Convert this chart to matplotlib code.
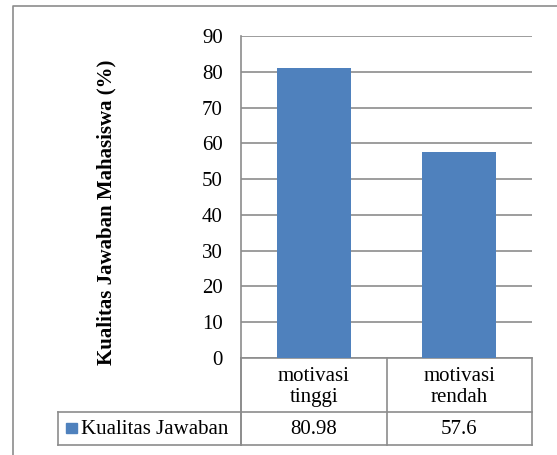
import matplotlib
matplotlib.use("Agg")
import matplotlib.pyplot as plt
from matplotlib.lines import Line2D
from matplotlib.patches import Rectangle
from matplotlib.transforms import blended_transform_factory

categories = ["motivasi\ntinggi", "motivasi\nrendah"]
values = [80.98, 57.6]
value_labels = ["80.98", "57.6"]
series_name = "Kualitas Jawaban"
y_ticks = [0, 10, 20, 30, 40, 50, 60, 70, 80, 90]
y_label = "Kualitas Jawaban Mahasiswa (%)"

W, H = 557, 455
BAR = "#4f81bd"
LINE = "#8c8c8c"
FONT = "Liberation Serif"
FS = 15

plt.rcParams["font.family"] = [FONT, "DejaVu Serif"]


def fx(px):
    return px / W


def fy(py):
    return 1 - py / H


fig = plt.figure(figsize=(W / 100, H / 100), dpi=100)

# plot area in pixel terms: left 241, right 532, top (90) 36, bottom (0) 358
ax = fig.add_axes([fx(241), fy(358), fx(532 - 241), (358 - 36) / H])
x = list(range(len(categories)))
ax.bar(x, values, width=0.51, color=BAR, zorder=3)
ax.set_xlim(-0.5, len(categories) - 0.5)
ax.set_ylim(0, 90)
ax.set_yticks(y_ticks)
ax.set_yticklabels([str(t) for t in y_ticks], fontsize=FS)
ax.set_xticks([])
ax.tick_params(axis="y", length=0, pad=13)
ax.yaxis.grid(True, color=LINE, linewidth=1.2)
ax.set_axisbelow(True)
for side in ("top", "right"):
    ax.spines[side].set_visible(False)
for side in ("left", "bottom"):
    ax.spines[side].set_color(LINE)
    ax.spines[side].set_linewidth(1.2)

fig.text(fx(106), fy(212), y_label, rotation=90, ha="center", va="center",
         fontsize=FS, fontweight="bold")

# data table under the axis: x from category positions, y in figure pixels
tr = blended_transform_factory(ax.transData, fig.transFigure)
x_lo, x_hi = -0.5, len(categories) - 0.5
row_top, row_mid, row_bot = 358, 412, 445

lines = [
    ([x_lo, x_lo], [fy(row_top), fy(row_bot)]),
    ([x_lo, x_hi], [fy(row_mid), fy(row_mid)]),
    ([x_lo, x_hi], [fy(row_bot), fy(row_bot)]),
]
for i in range(len(categories) + 1):
    xb = i - 0.5
    lines.append(([xb, xb], [fy(row_top), fy(row_bot)]))
for xs, ys in lines:
    fig.add_artist(Line2D(xs, ys, transform=tr, color=LINE, linewidth=1.2))

for xs, ys in [([fx(58), fx(241)], [fy(row_mid)] * 2),
               ([fx(58), fx(241)], [fy(row_bot)] * 2),
               ([fx(58), fx(58)], [fy(row_mid), fy(row_bot)])]:
    fig.add_artist(Line2D(xs, ys, transform=fig.transFigure, color=LINE,
                          linewidth=1.2))

for xi, cat, val in zip(x, categories, value_labels):
    fig.text(xi, fy((row_top + row_mid) / 2 + 2), cat, transform=tr,
             ha="center", va="center", fontsize=FS, linespacing=1.2)
    fig.text(xi, fy((row_mid + row_bot) / 2 + 1), val, transform=tr,
             ha="center", va="center", fontsize=FS)

# legend key in the table's first column
fig.add_artist(Rectangle((fx(66), fy(433)), fx(11), 10 / H,
                         transform=fig.transFigure, color=BAR))
fig.text(fx(81), fy((row_mid + row_bot) / 2 + 1), series_name,
         ha="left", va="center", fontsize=FS)

# chart frame (left and top edges)
fig.add_artist(Line2D([fx(13), fx(13), fx(W)], [0, fy(6), fy(6)],
                      transform=fig.transFigure, color=LINE, linewidth=1.2))

fig.savefig("out.png", dpi=100)
